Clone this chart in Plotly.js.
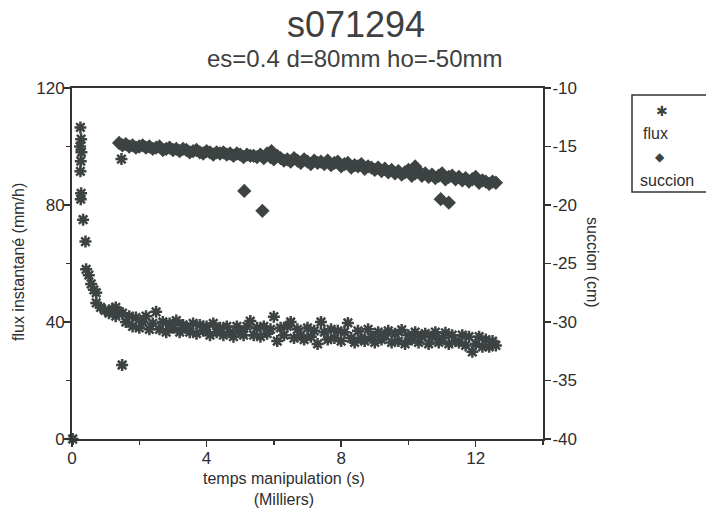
<!DOCTYPE html>
<html>
<head>
<meta charset="utf-8">
<script src="https://cdn.plot.ly/plotly-3.0.1.min.js"></script>
<style>html,body{margin:0;padding:0;background:#fff;}#chart{width:706px;height:515px;}</style>
</head>
<body>
<div id="chart"></div>
<script>
// ---- data (time in thousands of seconds) ----
const fluxTime = [
  0.02, 0.25, 0.27, 0.24, 0.28, 0.26, 0.25, 0.27, 0.26, 0.33, 0.40, 0.42, 0.50, 0.57, 0.65, 0.72, 0.72, 0.85, 0.98, 1.10, 1.20, 1.30, 1.30, 1.40, 1.47, 1.49,
  1.5, 1.6, 1.7, 1.8, 1.9, 2.0, 2.1, 2.2, 2.3, 2.4,
  2.5, 2.6, 2.7, 2.8, 2.9, 3.0, 3.1, 3.2, 3.3, 3.4,
  3.5, 3.6, 3.7, 3.8, 3.9, 4.0, 4.1, 4.2, 4.3, 4.4,
  4.5, 4.6, 4.7, 4.8, 4.9, 5.0, 5.1, 5.2, 5.3, 5.4,
  5.5, 5.6, 5.7, 5.8, 5.9, 6.0, 6.1, 6.2, 6.3, 6.4,
  6.5, 6.6, 6.7, 6.8, 6.9, 7.0, 7.1, 7.2, 7.3, 7.4,
  7.5, 7.6, 7.7, 7.8, 7.9, 8.0, 8.1, 8.2, 8.3, 8.4,
  8.5, 8.6, 8.7, 8.8, 8.9, 9.0, 9.1, 9.2, 9.3, 9.4,
  9.5, 9.6, 9.7, 9.8, 9.9, 10.0, 10.1, 10.2, 10.3, 10.4,
  10.5, 10.6, 10.7, 10.8, 10.9, 11.0, 11.1, 11.2, 11.3, 11.4,
  11.5, 11.6, 11.7, 11.8, 11.9, 12.0, 12.1, 12.2, 12.3, 12.4,
  12.5, 12.6
];
const fluxValues = [
  0, 106.5, 102.5, 100, 98, 95, 91.5, 84, 82, 75, 67.5, 58, 56, 53, 51, 50, 46.5, 45, 44, 43, 44.5, 45, 42, 43.5, 95.7, 25.3,
  43.0, 40.0, 42.0, 38.5, 41.5, 38.0, 40.0, 42.0, 37.5, 39.5,
  43.5, 37.5, 40.0, 36.5, 39.5, 38.0, 40.5, 36.5, 39.0, 38.0,
  36.5, 39.5, 36.0, 39.0, 37.0, 38.5, 35.5, 39.5, 36.5, 38.0,
  35.5, 38.5, 36.5, 35.0, 38.5, 37.0, 35.5, 38.5, 40.3, 35.5,
  38.0, 35.0, 38.5, 36.0, 37.5, 41.8, 33.5, 38.0, 35.5, 38.5,
  40.0, 34.5, 37.5, 35.5, 34.0, 38.0, 35.0, 37.0, 32.5, 40.0,
  36.5, 34.0, 37.5, 34.5, 37.0, 33.5, 36.5, 39.7, 34.5, 33.0,
  37.0, 34.5, 33.5, 37.5, 35.0, 33.0, 36.5, 34.0, 35.5, 37.0,
  33.0, 36.0, 33.5, 37.3, 32.5, 35.5, 34.0, 36.5, 33.0, 35.0,
  36.0, 32.5, 35.0, 36.5, 33.0, 34.5, 36.3, 32.5, 35.5, 33.5,
  33.0, 35.5, 32.0, 35.0, 29.8, 32.5, 35.0, 31.5, 34.0, 31.5,
  33.5, 32.0
];
const succionTime = [
  1.4, 1.5, 1.6, 1.7, 1.8, 1.9, 2.0, 2.1, 2.2, 2.3,
  2.4, 2.5, 2.6, 2.7, 2.8, 2.9, 3.0, 3.1, 3.2, 3.3,
  3.4, 3.5, 3.6, 3.7, 3.8, 3.9, 4.0, 4.1, 4.2, 4.3,
  4.4, 4.5, 4.6, 4.7, 4.8, 4.9, 5.0, 5.1, 5.2, 5.3,
  5.4, 5.5, 5.6, 5.7, 5.8, 5.9, 6.0, 6.1, 6.2, 6.3,
  6.4, 6.5, 6.6, 6.7, 6.8, 6.9, 7.0, 7.1, 7.2, 7.3,
  7.4, 7.5, 7.6, 7.7, 7.8, 7.9, 8.0, 8.1, 8.2, 8.3,
  8.4, 8.5, 8.6, 8.7, 8.8, 8.9, 9.0, 9.1, 9.2, 9.3,
  9.4, 9.5, 9.6, 9.7, 9.8, 9.9, 10.0, 10.1, 10.2, 10.3,
  10.4, 10.5, 10.6, 10.7, 10.8, 10.9, 11.0, 11.1, 11.2, 11.3,
  11.4, 11.5, 11.6, 11.7, 11.8, 11.9, 12.0, 12.1, 12.2, 12.3,
  12.4, 12.5, 12.6,
  5.12, 5.66, 5.93, 10.2, 10.96, 11.2
];
const succionValues = [
  -14.7, -14.9, -14.8, -15.0, -14.9, -15.1, -15.0, -14.9, -15.1, -15.0,
  -15.2, -15.1, -15.0, -15.3, -15.2, -15.1, -15.3, -15.2, -15.4, -15.2,
  -15.3, -15.5, -15.4, -15.3, -15.5, -15.6, -15.4, -15.5, -15.7, -15.5,
  -15.6, -15.5, -15.7, -15.6, -15.8, -15.6, -15.7, -15.9, -15.7, -15.8,
  -15.8, -15.9, -15.7, -16.0, -15.6, -15.9, -16.1, -15.8, -16.0, -16.2,
  -16.1, -16.3, -16.0, -16.2, -16.4, -16.1, -16.3, -16.5, -16.2, -16.4,
  -16.3, -16.5, -16.2, -16.6, -16.4, -16.3, -16.7, -16.5, -16.4, -16.8,
  -16.6, -16.7, -16.5, -16.9, -16.7, -16.8, -17.0, -16.8, -17.1, -16.9,
  -17.2, -17.0, -17.3, -17.1, -17.4, -17.2, -17.0, -17.5, -17.3, -17.1,
  -17.5, -17.3, -17.6, -17.4, -17.7, -17.5, -17.3, -17.8, -17.6, -17.5,
  -17.8, -17.6, -17.9, -17.7, -18.0, -17.8, -17.6, -18.1, -17.9, -18.0,
  -18.2, -18.0, -18.1,
  -18.8, -20.5, -15.4, -16.7, -19.5, -19.8
];
const xTickVals = [0, 4, 8, 12];
const yTickVals = [0, 40, 80, 120];
const y2TickVals = [-40, -35, -30, -25, -20, -15, -10];

const ink = '#3d4343';
const axisColor = '#333';
const fontFam = '"Liberation Sans", Arial, Helvetica, sans-serif';

const traces = [
  {
    x: fluxTime, y: fluxValues, name: 'flux', type: 'scatter', mode: 'markers',
    marker: {symbol: 'asterisk-open', size: 10, color: ink, line: {color: ink, width: 2.5}},
    xaxis: 'x', yaxis: 'y', showlegend: false, cliponaxis: false
  },
  {
    x: succionTime, y: succionValues, name: 'succion', type: 'scatter', mode: 'markers',
    marker: {symbol: 'diamond', size: 11, color: ink},
    xaxis: 'x', yaxis: 'y2', showlegend: false
  }
];

const L = 72, R = 543, T = 88, B = 439;
const W = R - L, H = B - T;
const px = v => (v - L) / W;
const py = v => (B - v) / H;

const layout = {
  width: 706, height: 515,
  margin: {l: L, r: 706 - R, t: T, b: 515 - B, pad: 0},
  paper_bgcolor: '#fff', plot_bgcolor: '#fff',
  font: {family: fontFam, color: '#2e2e2e', size: 17},
  showlegend: false,
  xaxis: {
    range: [0, 14], tickvals: xTickVals, ticktext: xTickVals.map(String),
    showline: true, linecolor: axisColor, linewidth: 2, mirror: true,
    ticks: 'outside', ticklen: 6, tickwidth: 1.5, tickcolor: axisColor,
    minor: {dtick: 2, tick0: 0, ticks: 'outside', ticklen: 4, tickwidth: 1.5, tickcolor: axisColor, showgrid: false},
    showgrid: false, zeroline: false, ticklabelstandoff: -3,
    tickfont: {size: 17, color: '#2e2e2e', family: fontFam}
  },
  yaxis: {
    range: [0, 120], tickvals: yTickVals, ticktext: yTickVals.map(String),
    showline: true, linecolor: axisColor, linewidth: 2,
    ticks: 'outside', ticklen: 6, tickwidth: 1.5, tickcolor: axisColor,
    minor: {dtick: 20, tick0: 0, ticks: 'outside', ticklen: 4, tickwidth: 1.5, tickcolor: axisColor, showgrid: false},
    showgrid: false, zeroline: false, ticklabelstandoff: -4,
    tickfont: {size: 17, color: '#2e2e2e', family: fontFam}
  },
  yaxis2: {
    range: [-40, -10], tickvals: y2TickVals, ticktext: y2TickVals.map(String),
    overlaying: 'y', side: 'right', anchor: 'x',
    showline: true, linecolor: axisColor, linewidth: 2,
    ticks: 'outside', ticklen: 6, tickwidth: 1.5, tickcolor: axisColor,
    showgrid: false, zeroline: false, ticklabelstandoff: -2,
    tickfont: {size: 17, color: '#2e2e2e', family: fontFam}
  },
  shapes: [
    {type: 'rect', xref: 'paper', yref: 'paper', x0: px(632), x1: px(720), y0: py(192), y1: py(95),
     line: {color: '#333', width: 1.5}, fillcolor: 'rgba(0,0,0,0)'}
  ],
  annotations: [
    {text: 's071294', xref: 'paper', yref: 'paper', x: px(356), y: py(25), showarrow: false,
     xanchor: 'center', yanchor: 'middle', font: {size: 36, color: '#404040', family: fontFam}},
    {text: 'es=0.4 d=80mm ho=-50mm', xref: 'paper', yref: 'paper', x: px(355), y: py(58), showarrow: false,
     xanchor: 'center', yanchor: 'middle', font: {size: 24, color: '#404040', family: fontFam}},
    {text: 'flux instantané (mm/h)', xref: 'paper', yref: 'paper', x: px(18), y: py(262), showarrow: false,
     textangle: -90, xanchor: 'center', yanchor: 'middle', font: {size: 16, color: '#2e2e2e', family: fontFam}},
    {text: 'succion (cm)', xref: 'paper', yref: 'paper', x: px(593), y: py(262), showarrow: false,
     textangle: 90, xanchor: 'center', yanchor: 'middle', font: {size: 16, color: '#2e2e2e', family: fontFam}},
    {text: 'temps manipulation (s)<br>(Milliers)', xref: 'paper', yref: 'paper', x: px(284), y: py(489), showarrow: false,
     xanchor: 'center', yanchor: 'middle', font: {size: 16, color: '#2e2e2e', family: fontFam}},
    {text: '✱', xref: 'paper', yref: 'paper', x: px(662), y: py(111), showarrow: false,
     xanchor: 'center', yanchor: 'middle', font: {size: 14, color: ink, family: '"DejaVu Sans"'}},
    {text: 'flux', xref: 'paper', yref: 'paper', x: px(641), y: py(133), showarrow: false,
     xanchor: 'left', yanchor: 'middle', font: {size: 16, color: '#2e2e2e', family: fontFam}},
    {text: '◆', xref: 'paper', yref: 'paper', x: px(660), y: py(157), showarrow: false,
     xanchor: 'center', yanchor: 'middle', font: {size: 12, color: ink, family: '"DejaVu Sans"'}},
    {text: 'succion', xref: 'paper', yref: 'paper', x: px(638), y: py(180), showarrow: false,
     xanchor: 'left', yanchor: 'middle', font: {size: 16, color: '#2e2e2e', family: fontFam}}
  ]
};

Plotly.newPlot('chart', traces, layout, {displayModeBar: false, staticPlot: true});
</script>
</body>
</html>
